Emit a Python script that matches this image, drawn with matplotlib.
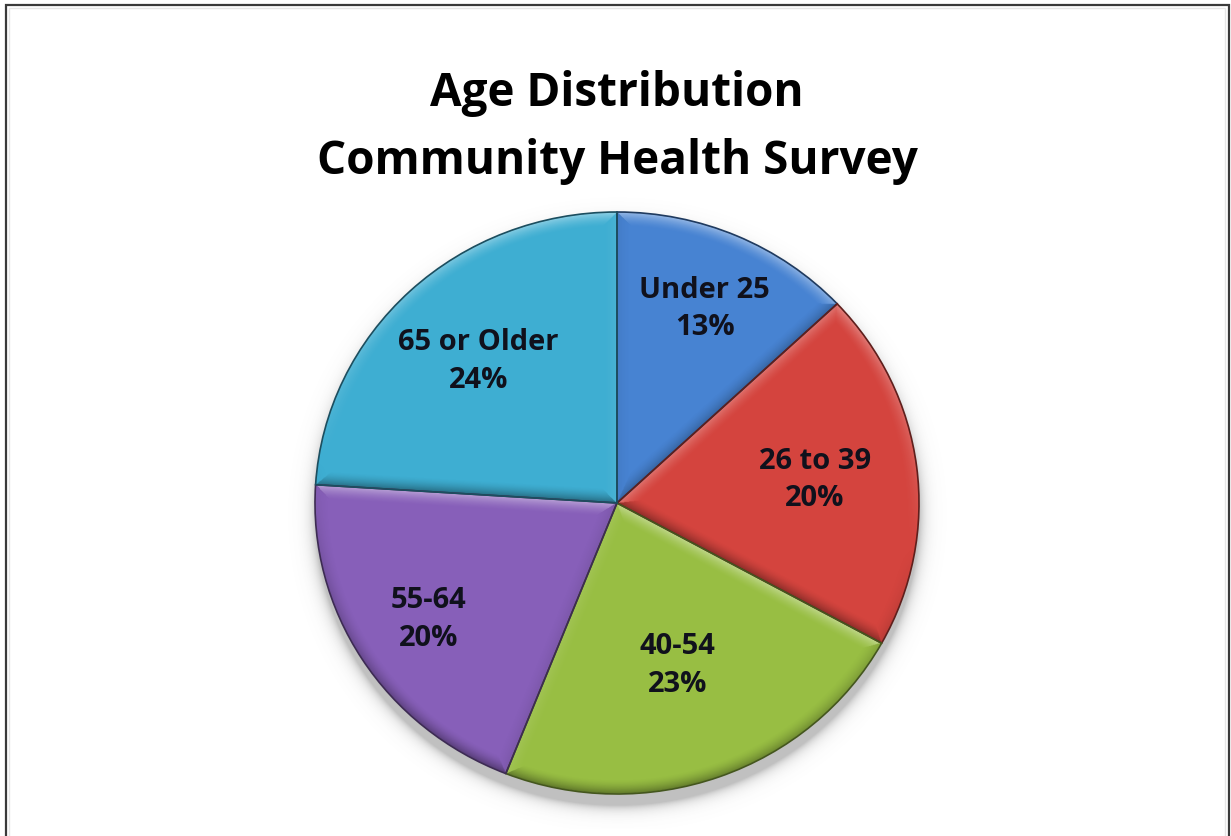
import numpy as np
import matplotlib
matplotlib.use("Agg")
import matplotlib.pyplot as plt
from matplotlib.patches import Rectangle, Circle, Wedge
from matplotlib.colors import to_rgb

# Survey data
categories = ["Under 25", "26 to 39", "40-54", "55-64", "65 or Older"]
shares = [13, 20, 23, 20, 24]
colors = ["#4783D2", "#D4443E", "#98BE43", "#875FB9", "#3EAED2"]
title_lines = ["Age Distribution", "Community Health Survey"]

# Radial position of each slice label (fraction of radius)
label_radius = [0.73, 0.66, 0.59, 0.74, 0.67]

W, H = 1231, 837
fig = plt.figure(figsize=(W / 100, H / 100), dpi=100)
fig.patch.set_facecolor("white")

# Pie placement in pixels (from top-left)
cx, cy = 617, 504
rx, ry = 302, 291
pad = 1.12
ax = fig.add_axes([(cx - rx * pad) / W, (H - cy - ry * pad) / H,
                   2 * rx * pad / W, 2 * ry * pad / H])

wedges, _ = ax.pie(shares, colors=colors, startangle=90, counterclock=False,
                   radius=1.0, wedgeprops=dict(linewidth=0))
ax.set_aspect("auto")
ax.set_xlim(-pad, pad)
ax.set_ylim(-pad, pad)
ax.axis("off")
for w in wedges:
    w.set_zorder(2)

# Soft drop shadow under the pie
n = 700
g = np.linspace(-pad, pad, n)
X, Y = np.meshgrid(g, g)
rs = np.hypot(X, Y + 0.04)
sh_alpha = np.where(rs < 1.0, 0.38, 0.38 * np.exp(-np.clip(rs - 1.0, 0, None) / 0.02))
shadow = np.zeros((n, n, 4))
shadow[..., :3] = 0.35
shadow[..., 3] = sh_alpha
ax.imshow(shadow, extent=(-pad, pad, -pad, pad), origin="lower",
          interpolation="bilinear", zorder=1, aspect="auto")

# Bevel shading on every slice edge
m = 1000
g2 = np.linspace(-1, 1, m)
X2, Y2 = np.meshgrid(g2, g2)
R = np.hypot(X2, Y2)
TH = np.degrees(np.arctan2(Y2, X2))
light = np.array([0.15, 1.0])
light = light / np.linalg.norm(light)
shade = np.zeros_like(R)
bevel = 0.05
for w in wedges:
    t1, t2 = w.theta1, w.theta2
    inside = ((TH - t1) % 360) < (t2 - t1)
    a1, a2 = np.radians(t1), np.radians(t2)
    d1 = -X2 * np.sin(a1) + Y2 * np.cos(a1)
    d2 = X2 * np.sin(a2) - Y2 * np.cos(a2)
    d3 = 1.0 - R
    Rs = np.where(R == 0, 1e-9, R)
    n3 = (X2 / Rs) * light[0] + (Y2 / Rs) * light[1]
    n1 = np.sin(a1) * light[0] - np.cos(a1) * light[1]
    n2 = -np.sin(a2) * light[0] + np.cos(a2) * light[1]
    dmin = np.minimum(np.minimum(d1, d2), d3)
    ndot = np.where(dmin == d3, n3, np.where(dmin == d1, n1, n2))
    prof = np.clip(1 - dmin / bevel, 0, 1) ** 1.6
    shade = np.where(inside, ndot * prof, shade)
over = np.zeros((m, m, 4))
over[..., :3] = np.where(shade[..., None] > 0, 1.0, 0.0)
over[..., 3] = np.where(shade > 0, 0.42 * shade, 0.38 * -shade)
over[..., 3] = np.where(R > 1.0, 0, over[..., 3])
im = ax.imshow(over, extent=(-1, 1, -1, 1), origin="lower",
               interpolation="bilinear", zorder=3, aspect="auto")
im.set_clip_path(Circle((0, 0), 1.0, transform=ax.transData))

# Dark slice outlines on top
for w, c in zip(wedges, colors):
    ec = tuple(0.45 * np.array(to_rgb(c)))
    ax.add_patch(Wedge(w.center, w.r, w.theta1, w.theta2, fill=False,
                       edgecolor=ec, linewidth=1.2, zorder=4))

# Slice labels
for w, cat, val, lr in zip(wedges, categories, shares, label_radius):
    mid = np.radians((w.theta1 + w.theta2) / 2)
    ax.text(lr * np.cos(mid), lr * np.sin(mid), f"{cat}\n{val}%",
            ha="center", va="center", fontsize=21, fontweight="bold",
            family="Open Sans", color="#10111c", linespacing=1.4, zorder=5)

# Title
fig.text(617 / W, 1 - 106 / H, title_lines[0], ha="center", va="baseline",
         fontsize=33, fontweight="bold", family="Open Sans", color="black")
fig.text(617 / W, 1 - 174 / H, title_lines[1], ha="center", va="baseline",
         fontsize=33, fontweight="bold", family="Open Sans", color="black")

# Chart frame
fig.add_artist(Rectangle((5.5 / W, -0.05), (1228.5 - 5.5) / W, 1 - 5.5 / H + 0.05,
                         transform=fig.transFigure, fill=False,
                         edgecolor="#3a3a3a", linewidth=1.6, clip_on=False))
fig.add_artist(Rectangle((9 / W, -0.05), (1225 - 9) / W, 1 - 9 / H + 0.05,
                         transform=fig.transFigure, fill=False,
                         edgecolor="#e6e6e6", linewidth=1.0, clip_on=False))

fig.savefig("out.png", dpi=100, facecolor="white")
